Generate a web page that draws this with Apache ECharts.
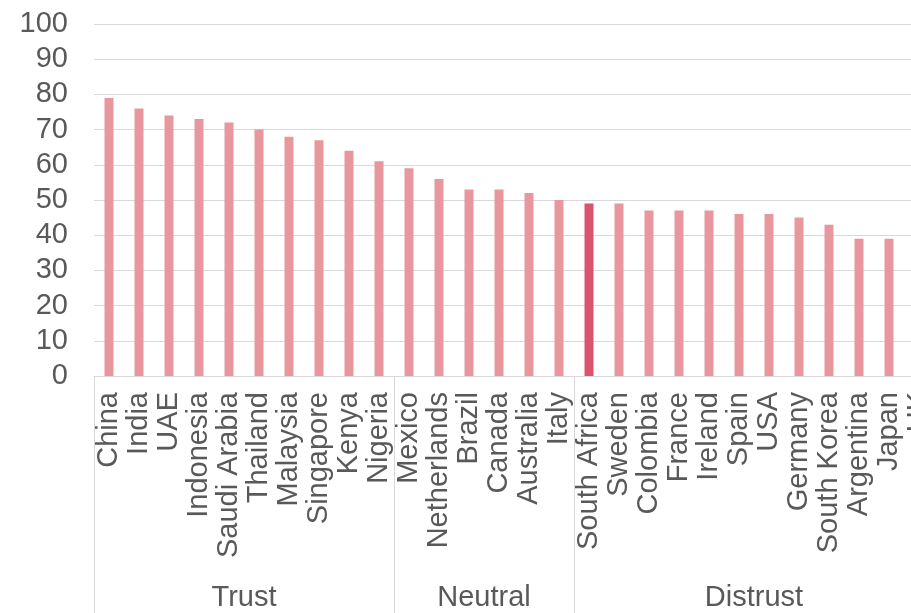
<!DOCTYPE html>
<html>
<head>
<meta charset="utf-8">
<script src="https://cdn.jsdelivr.net/npm/echarts@6/dist/echarts.min.js"></script>
<style>
  html, body { margin: 0; padding: 0; background: #ffffff; }
  #chart { width: 911px; height: 613px; }
</style>
</head>
<body>
<div id="chart"></div>
<script>
// Trust index by country, grouped into trust bands
const countries = [
  'China', 'India', 'UAE', 'Indonesia', 'Saudi Arabia', 'Thailand', 'Malaysia',
  'Singapore', 'Kenya', 'Nigeria',
  'Mexico', 'Netherlands', 'Brazil', 'Canada', 'Australia', 'Italy',
  'South Africa', 'Sweden', 'Colombia', 'France', 'Ireland', 'Spain', 'USA',
  'Germany', 'South Korea', 'Argentina', 'Japan', 'UK'
];
const scores = [
  79, 76, 74, 73, 72, 70, 68, 67, 64, 61,
  59, 56, 53, 53, 52, 50,
  49, 49, 47, 47, 47, 46, 46, 45, 43, 39, 39, 37
];
const groupNames = ['Trust', 'Neutral', 'Distrust'];
const groupSizes = [10, 6, 12];
const highlighted = 'South Africa';
const yTicks = [0, 10, 20, 30, 40, 50, 60, 70, 80, 90, 100];

const textColor = '#595959';
const lineColor = '#d9d9d9';
const barColor = '#e8979f';
const highlightColor = '#d9546c';
const font = 'Liberation Sans, Arial, sans-serif';
const fontSize = 29;

// start index of each group and the index whose left edge sits at the group's centre
const groupStarts = [];
const groupLabelAt = {};
let acc = 0;
groupSizes.forEach((n, g) => {
  groupStarts.push(acc);
  groupLabelAt[acc + n / 2] = groupNames[g];
  acc += n;
});

const chart = echarts.init(document.getElementById('chart'), null, { renderer: 'canvas' });

chart.setOption({
  animation: false,
  backgroundColor: '#ffffff',
  grid: {
    left: 94, top: 24, width: 840, height: 352,
    containLabel: false,
    outerBoundsMode: 'none'
  },
  xAxis: [
    {
      type: 'category',
      data: countries,
      position: 'bottom',
      axisLine: { show: true, lineStyle: { color: lineColor, width: 1 } },
      axisTick: { show: false },
      axisLabel: {
        interval: 0,
        rotate: 90,
        margin: 16,
        color: textColor,
        fontFamily: font,
        fontSize: fontSize
      }
    },
    {
      type: 'category',
      data: countries,
      position: 'bottom',
      axisLine: { show: false },
      axisTick: {
        show: true,
        length: 240,
        interval: (i) => groupStarts.indexOf(i) !== -1,
        lineStyle: { color: lineColor, width: 1 }
      },
      axisLabel: {
        interval: 0,
        margin: 207,
        color: textColor,
        fontFamily: font,
        fontSize: fontSize,
        formatter: (v, i) => groupLabelAt[i] ? '{g|' + groupLabelAt[i] + '}' : '',
        rich: {
          g: { padding: [0, 30, 0, 0], color: textColor, fontFamily: font, fontSize: fontSize }
        }
      }
    }
  ],
  yAxis: {
    type: 'value',
    min: yTicks[0],
    max: yTicks[yTicks.length - 1],
    interval: yTicks[1] - yTicks[0],
    axisLine: { show: false },
    axisTick: { show: false },
    axisLabel: { margin: 26, color: textColor, fontFamily: font, fontSize: fontSize },
    splitLine: { lineStyle: { color: lineColor, width: 1 } }
  },
  series: [{
    type: 'bar',
    barWidth: 9,
    xAxisIndex: 0,
    data: countries.map((c, i) => ({
      value: scores[i],
      itemStyle: { color: c === highlighted ? highlightColor : barColor }
    }))
  }]
});
</script>
</body>
</html>
